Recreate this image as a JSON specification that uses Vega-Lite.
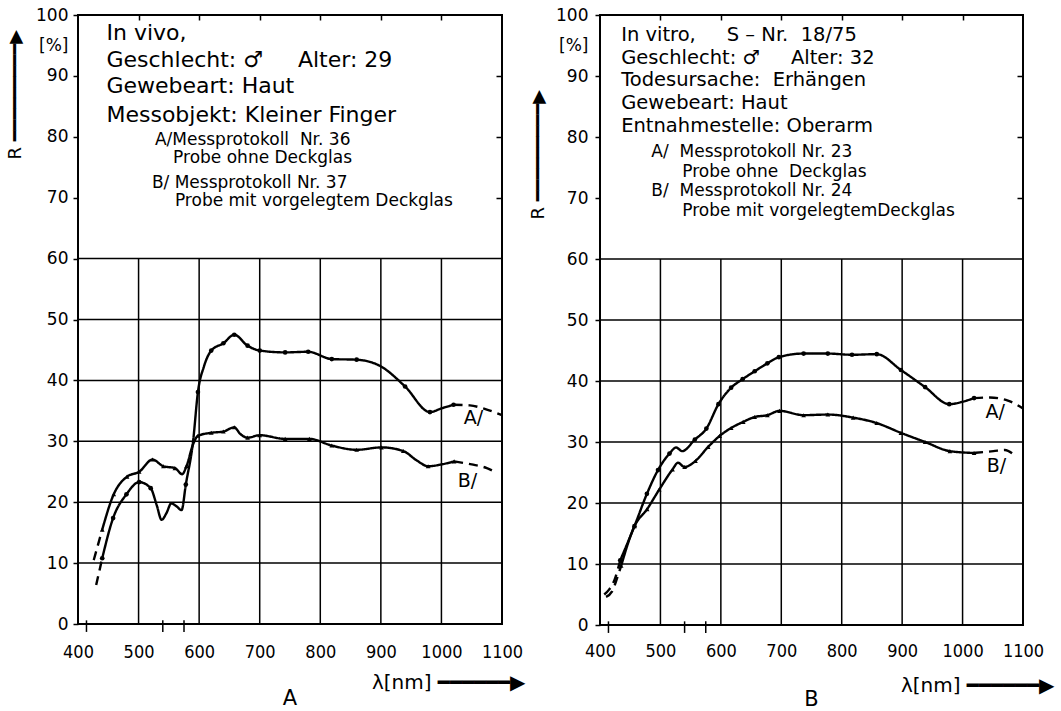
{
"$schema": "https://vega.github.io/schema/vega-lite/v6.json",
"background": "white",
"padding": {"left": 5, "top": 5, "right": 5, "bottom": 5},
"spacing": 98,
"bounds": "flush",
"config": {
  "font": "DejaVu Sans",
  "view": {"stroke": "black", "strokeWidth": 2},
  "axis": {"labelColor": "black", "titleColor": "black", "tickColor": "black", "domain": false, "grid": false, "titleFontWeight": "normal"},
  "title": {"color": "black", "fontWeight": "normal"}
},
"datasets": {
  "hgrid": [{"R": 10}, {"R": 20}, {"R": 30}, {"R": 40}, {"R": 50}, {"R": 60}],
  "vgrid": [{"nm": 500}, {"nm": 600}, {"nm": 700}, {"nm": 800}, {"nm": 900}, {"nm": 1000}],
  "sticks": [{"nm": 414}, {"nm": 540}, {"nm": 575}],
  "curvesL": [
    {"curve": "A", "seg": "A0", "style": "dash", "nm": 430, "R": 6.4, "pt": 0},
    {"curve": "A", "seg": "A0", "style": "dash", "nm": 435, "R": 8.6, "pt": 0},
    {"curve": "A", "seg": "A0", "style": "dash", "nm": 440, "R": 10.8, "pt": 0},
    {"curve": "A", "seg": "A1", "style": "solid", "nm": 440, "R": 10.8, "pt": 1},
    {"curve": "A", "seg": "A1", "style": "solid", "nm": 458, "R": 17.4, "pt": 1},
    {"curve": "A", "seg": "A1", "style": "solid", "nm": 480, "R": 21.3, "pt": 1},
    {"curve": "A", "seg": "A1", "style": "solid", "nm": 501, "R": 23.3, "pt": 1},
    {"curve": "A", "seg": "A1", "style": "solid", "nm": 520, "R": 22.3, "pt": 1},
    {"curve": "A", "seg": "A1", "style": "solid", "nm": 530, "R": 19.5, "pt": 0},
    {"curve": "A", "seg": "A1", "style": "solid", "nm": 538, "R": 17.1, "pt": 0},
    {"curve": "A", "seg": "A1", "style": "solid", "nm": 546, "R": 18.2, "pt": 0},
    {"curve": "A", "seg": "A1", "style": "solid", "nm": 554, "R": 19.8, "pt": 0},
    {"curve": "A", "seg": "A1", "style": "solid", "nm": 563, "R": 19.3, "pt": 0},
    {"curve": "A", "seg": "A1", "style": "solid", "nm": 571, "R": 18.7, "pt": 0},
    {"curve": "A", "seg": "A1", "style": "solid", "nm": 578, "R": 22.9, "pt": 1},
    {"curve": "A", "seg": "A1", "style": "solid", "nm": 590, "R": 30.0, "pt": 0},
    {"curve": "A", "seg": "A1", "style": "solid", "nm": 598, "R": 38.1, "pt": 1},
    {"curve": "A", "seg": "A1", "style": "solid", "nm": 608, "R": 42.3, "pt": 0},
    {"curve": "A", "seg": "A1", "style": "solid", "nm": 620, "R": 44.9, "pt": 1},
    {"curve": "A", "seg": "A1", "style": "solid", "nm": 640, "R": 46.1, "pt": 1},
    {"curve": "A", "seg": "A1", "style": "solid", "nm": 658, "R": 47.5, "pt": 1},
    {"curve": "A", "seg": "A1", "style": "solid", "nm": 680, "R": 45.7, "pt": 1},
    {"curve": "A", "seg": "A1", "style": "solid", "nm": 700, "R": 44.9, "pt": 1},
    {"curve": "A", "seg": "A1", "style": "solid", "nm": 742, "R": 44.6, "pt": 1},
    {"curve": "A", "seg": "A1", "style": "solid", "nm": 780, "R": 44.7, "pt": 1},
    {"curve": "A", "seg": "A1", "style": "solid", "nm": 819, "R": 43.5, "pt": 1},
    {"curve": "A", "seg": "A1", "style": "solid", "nm": 860, "R": 43.4, "pt": 1},
    {"curve": "A", "seg": "A1", "style": "solid", "nm": 900, "R": 42.3, "pt": 0},
    {"curve": "A", "seg": "A1", "style": "solid", "nm": 940, "R": 39.0, "pt": 1},
    {"curve": "A", "seg": "A1", "style": "solid", "nm": 981, "R": 34.8, "pt": 1},
    {"curve": "A", "seg": "A1", "style": "solid", "nm": 1000, "R": 35.4, "pt": 0},
    {"curve": "A", "seg": "A1", "style": "solid", "nm": 1020, "R": 36.0, "pt": 1},
    {"curve": "A", "seg": "A2", "style": "dash", "nm": 1020, "R": 36.0, "pt": 0},
    {"curve": "A", "seg": "A2", "style": "dash", "nm": 1047, "R": 35.9, "pt": 0},
    {"curve": "A", "seg": "A2", "style": "dash", "nm": 1075, "R": 35.2, "pt": 0},
    {"curve": "A", "seg": "A2", "style": "dash", "nm": 1100, "R": 34.3, "pt": 0},
    {"curve": "B", "seg": "B0", "style": "dash", "nm": 426, "R": 10.5, "pt": 0},
    {"curve": "B", "seg": "B0", "style": "dash", "nm": 433, "R": 13.0, "pt": 0},
    {"curve": "B", "seg": "B0", "style": "dash", "nm": 440, "R": 15.5, "pt": 0},
    {"curve": "B", "seg": "B1", "style": "solid", "nm": 440, "R": 15.5, "pt": 1},
    {"curve": "B", "seg": "B1", "style": "solid", "nm": 459, "R": 21.3, "pt": 1},
    {"curve": "B", "seg": "B1", "style": "solid", "nm": 481, "R": 24.2, "pt": 1},
    {"curve": "B", "seg": "B1", "style": "solid", "nm": 501, "R": 25.0, "pt": 1},
    {"curve": "B", "seg": "B1", "style": "solid", "nm": 523, "R": 27.0, "pt": 1},
    {"curve": "B", "seg": "B1", "style": "solid", "nm": 541, "R": 25.9, "pt": 1},
    {"curve": "B", "seg": "B1", "style": "solid", "nm": 560, "R": 25.6, "pt": 1},
    {"curve": "B", "seg": "B1", "style": "solid", "nm": 572, "R": 24.6, "pt": 0},
    {"curve": "B", "seg": "B1", "style": "solid", "nm": 579, "R": 25.9, "pt": 1},
    {"curve": "B", "seg": "B1", "style": "solid", "nm": 590, "R": 29.5, "pt": 0},
    {"curve": "B", "seg": "B1", "style": "solid", "nm": 598, "R": 30.9, "pt": 1},
    {"curve": "B", "seg": "B1", "style": "solid", "nm": 620, "R": 31.4, "pt": 1},
    {"curve": "B", "seg": "B1", "style": "solid", "nm": 640, "R": 31.6, "pt": 1},
    {"curve": "B", "seg": "B1", "style": "solid", "nm": 658, "R": 32.3, "pt": 1},
    {"curve": "B", "seg": "B1", "style": "solid", "nm": 668, "R": 31.2, "pt": 0},
    {"curve": "B", "seg": "B1", "style": "solid", "nm": 680, "R": 30.6, "pt": 1},
    {"curve": "B", "seg": "B1", "style": "solid", "nm": 700, "R": 31.0, "pt": 1},
    {"curve": "B", "seg": "B1", "style": "solid", "nm": 742, "R": 30.4, "pt": 1},
    {"curve": "B", "seg": "B1", "style": "solid", "nm": 782, "R": 30.4, "pt": 1},
    {"curve": "B", "seg": "B1", "style": "solid", "nm": 819, "R": 29.3, "pt": 1},
    {"curve": "B", "seg": "B1", "style": "solid", "nm": 860, "R": 28.6, "pt": 1},
    {"curve": "B", "seg": "B1", "style": "solid", "nm": 901, "R": 29.0, "pt": 1},
    {"curve": "B", "seg": "B1", "style": "solid", "nm": 937, "R": 28.4, "pt": 1},
    {"curve": "B", "seg": "B1", "style": "solid", "nm": 960, "R": 26.8, "pt": 0},
    {"curve": "B", "seg": "B1", "style": "solid", "nm": 978, "R": 25.9, "pt": 1},
    {"curve": "B", "seg": "B1", "style": "solid", "nm": 1000, "R": 26.2, "pt": 0},
    {"curve": "B", "seg": "B1", "style": "solid", "nm": 1021, "R": 26.7, "pt": 1},
    {"curve": "B", "seg": "B2", "style": "dash", "nm": 1021, "R": 26.7, "pt": 0},
    {"curve": "B", "seg": "B2", "style": "dash", "nm": 1050, "R": 26.2, "pt": 0},
    {"curve": "B", "seg": "B2", "style": "dash", "nm": 1075, "R": 25.6, "pt": 0},
    {"curve": "B", "seg": "B2", "style": "dash", "nm": 1092, "R": 24.8, "pt": 0}
  ],
  "curvesR": [
    {"curve": "A", "seg": "A0", "style": "dash", "nm": 407, "R": 5.0, "pt": 0},
    {"curve": "A", "seg": "A0", "style": "dash", "nm": 415, "R": 5.8, "pt": 0},
    {"curve": "A", "seg": "A0", "style": "dash", "nm": 424, "R": 7.4, "pt": 0},
    {"curve": "A", "seg": "A0", "style": "dash", "nm": 433.5, "R": 10.6, "pt": 0},
    {"curve": "A", "seg": "A1", "style": "solid", "nm": 433.5, "R": 10.6, "pt": 1},
    {"curve": "A", "seg": "A1", "style": "solid", "nm": 457, "R": 16.2, "pt": 1},
    {"curve": "A", "seg": "A1", "style": "solid", "nm": 477.6, "R": 21.5, "pt": 1},
    {"curve": "A", "seg": "A1", "style": "solid", "nm": 496, "R": 25.4, "pt": 1},
    {"curve": "A", "seg": "A1", "style": "solid", "nm": 515, "R": 28.1, "pt": 1},
    {"curve": "A", "seg": "A1", "style": "solid", "nm": 526, "R": 29.1, "pt": 0},
    {"curve": "A", "seg": "A1", "style": "solid", "nm": 536, "R": 28.5, "pt": 0},
    {"curve": "A", "seg": "A1", "style": "solid", "nm": 557, "R": 30.4, "pt": 1},
    {"curve": "A", "seg": "A1", "style": "solid", "nm": 576, "R": 32.2, "pt": 1},
    {"curve": "A", "seg": "A1", "style": "solid", "nm": 596, "R": 36.2, "pt": 1},
    {"curve": "A", "seg": "A1", "style": "solid", "nm": 617, "R": 38.9, "pt": 1},
    {"curve": "A", "seg": "A1", "style": "solid", "nm": 636, "R": 40.3, "pt": 1},
    {"curve": "A", "seg": "A1", "style": "solid", "nm": 656, "R": 41.6, "pt": 1},
    {"curve": "A", "seg": "A1", "style": "solid", "nm": 677, "R": 42.9, "pt": 1},
    {"curve": "A", "seg": "A1", "style": "solid", "nm": 696, "R": 43.9, "pt": 1},
    {"curve": "A", "seg": "A1", "style": "solid", "nm": 737, "R": 44.5, "pt": 1},
    {"curve": "A", "seg": "A1", "style": "solid", "nm": 777, "R": 44.5, "pt": 1},
    {"curve": "A", "seg": "A1", "style": "solid", "nm": 817, "R": 44.3, "pt": 1},
    {"curve": "A", "seg": "A1", "style": "solid", "nm": 858, "R": 44.4, "pt": 1},
    {"curve": "A", "seg": "A1", "style": "solid", "nm": 898, "R": 41.8, "pt": 1},
    {"curve": "A", "seg": "A1", "style": "solid", "nm": 938, "R": 39.0, "pt": 1},
    {"curve": "A", "seg": "A1", "style": "solid", "nm": 978, "R": 36.2, "pt": 1},
    {"curve": "A", "seg": "A1", "style": "solid", "nm": 1000, "R": 36.6, "pt": 0},
    {"curve": "A", "seg": "A1", "style": "solid", "nm": 1019, "R": 37.2, "pt": 1},
    {"curve": "A", "seg": "A2", "style": "dash", "nm": 1019, "R": 37.2, "pt": 0},
    {"curve": "A", "seg": "A2", "style": "dash", "nm": 1045, "R": 37.3, "pt": 0},
    {"curve": "A", "seg": "A2", "style": "dash", "nm": 1075, "R": 36.8, "pt": 0},
    {"curve": "A", "seg": "A2", "style": "dash", "nm": 1100, "R": 35.5, "pt": 0},
    {"curve": "B", "seg": "B0", "style": "dash", "nm": 410, "R": 4.6, "pt": 0},
    {"curve": "B", "seg": "B0", "style": "dash", "nm": 420, "R": 5.5, "pt": 0},
    {"curve": "B", "seg": "B0", "style": "dash", "nm": 430, "R": 8.2, "pt": 0},
    {"curve": "B", "seg": "B0", "style": "dash", "nm": 435, "R": 9.7, "pt": 0},
    {"curve": "B", "seg": "B1", "style": "solid", "nm": 435, "R": 9.7, "pt": 1},
    {"curve": "B", "seg": "B1", "style": "solid", "nm": 457, "R": 16.2, "pt": 1},
    {"curve": "B", "seg": "B1", "style": "solid", "nm": 478, "R": 19.0, "pt": 1},
    {"curve": "B", "seg": "B1", "style": "solid", "nm": 498, "R": 22.2, "pt": 1},
    {"curve": "B", "seg": "B1", "style": "solid", "nm": 520, "R": 25.5, "pt": 1},
    {"curve": "B", "seg": "B1", "style": "solid", "nm": 529, "R": 26.6, "pt": 0},
    {"curve": "B", "seg": "B1", "style": "solid", "nm": 540, "R": 25.9, "pt": 1},
    {"curve": "B", "seg": "B1", "style": "solid", "nm": 558, "R": 26.9, "pt": 1},
    {"curve": "B", "seg": "B1", "style": "solid", "nm": 579, "R": 29.2, "pt": 1},
    {"curve": "B", "seg": "B1", "style": "solid", "nm": 598, "R": 31.0, "pt": 1},
    {"curve": "B", "seg": "B1", "style": "solid", "nm": 617, "R": 32.3, "pt": 1},
    {"curve": "B", "seg": "B1", "style": "solid", "nm": 637, "R": 33.3, "pt": 1},
    {"curve": "B", "seg": "B1", "style": "solid", "nm": 656, "R": 34.1, "pt": 1},
    {"curve": "B", "seg": "B1", "style": "solid", "nm": 677, "R": 34.4, "pt": 1},
    {"curve": "B", "seg": "B1", "style": "solid", "nm": 697, "R": 35.1, "pt": 1},
    {"curve": "B", "seg": "B1", "style": "solid", "nm": 737, "R": 34.4, "pt": 1},
    {"curve": "B", "seg": "B1", "style": "solid", "nm": 777, "R": 34.5, "pt": 1},
    {"curve": "B", "seg": "B1", "style": "solid", "nm": 819, "R": 34.0, "pt": 1},
    {"curve": "B", "seg": "B1", "style": "solid", "nm": 858, "R": 33.1, "pt": 1},
    {"curve": "B", "seg": "B1", "style": "solid", "nm": 898, "R": 31.5, "pt": 1},
    {"curve": "B", "seg": "B1", "style": "solid", "nm": 938, "R": 30.0, "pt": 1},
    {"curve": "B", "seg": "B1", "style": "solid", "nm": 979, "R": 28.5, "pt": 1},
    {"curve": "B", "seg": "B1", "style": "solid", "nm": 1019, "R": 28.2, "pt": 1},
    {"curve": "B", "seg": "B2", "style": "dash", "nm": 1019, "R": 28.2, "pt": 0},
    {"curve": "B", "seg": "B2", "style": "dash", "nm": 1051, "R": 28.5, "pt": 0},
    {"curve": "B", "seg": "B2", "style": "dash", "nm": 1070, "R": 28.7, "pt": 0},
    {"curve": "B", "seg": "B2", "style": "dash", "nm": 1084, "R": 28.0, "pt": 0}
  ],
  "tagsL": [{"nm": 1053, "R": 33.8, "text": "A/"}, {"nm": 1043, "R": 23.5, "text": "B/"}],
  "tagsR": [{"nm": 1054, "R": 35.0, "text": "A/"}, {"nm": 1056, "R": 26.1, "text": "B/"}],
  "textL": [
    {"nm": 447, "R": 97.0, "text": "In vivo,", "kind": "big"},
    {"nm": 447, "R": 92.6, "text": "Geschlecht: ♂\u00a0\u00a0\u00a0\u00a0\u00a0Alter: 29", "kind": "big"},
    {"nm": 447, "R": 88.3, "text": "Gewebeart: Haut", "kind": "big"},
    {"nm": 447, "R": 83.6, "text": "Messobjekt: Kleiner Finger", "kind": "big"},
    {"nm": 527, "R": 79.5, "text": "A/Messprotokoll\u00a0\u00a0Nr. 36", "kind": "small"},
    {"nm": 557, "R": 76.5, "text": "Probe ohne Deckglas", "kind": "small"},
    {"nm": 522, "R": 72.4, "text": "B/ Messprotokoll Nr. 37", "kind": "small"},
    {"nm": 560, "R": 69.4, "text": "Probe mit vorgelegtem Deckglas", "kind": "small"}
  ],
  "textR": [
    {"nm": 435, "R": 96.8, "text": "In vitro,\u00a0\u00a0\u00a0\u00a0\u00a0S – Nr.\u00a0\u00a018/75", "kind": "mid"},
    {"nm": 435, "R": 93.0, "text": "Geschlecht: ♂\u00a0\u00a0\u00a0\u00a0\u00a0Alter: 32", "kind": "mid"},
    {"nm": 435, "R": 89.3, "text": "Todesursache:\u00a0\u00a0Erhängen", "kind": "mid"},
    {"nm": 435, "R": 85.6, "text": "Gewebeart: Haut", "kind": "mid"},
    {"nm": 435, "R": 81.8, "text": "Entnahmestelle: Oberarm", "kind": "mid"},
    {"nm": 485, "R": 77.5, "text": "A/\u00a0\u00a0Messprotokoll Nr. 23", "kind": "small"},
    {"nm": 536, "R": 74.3, "text": "Probe ohne\u00a0\u00a0Deckglas", "kind": "small"},
    {"nm": 485, "R": 71.1, "text": "B/\u00a0\u00a0Messprotokoll Nr. 24", "kind": "small"},
    {"nm": 536, "R": 67.8, "text": "Probe mit vorgelegtemDeckglas", "kind": "small"}
  ]
},
"hconcat": [
  {
    "width": 424, "height": 609,
    "title": {"text": "A", "orient": "bottom", "fontSize": 21, "offset": -4, "anchor": "middle"},
    "resolve": {"axis": {"x": "independent", "y": "independent"}},
    "layer": [
      {"data": {"name": "hgrid"}, "mark": {"type": "rule", "color": "black", "strokeWidth": 1.5},
       "encoding": {"y": {"field": "R", "type": "quantitative", "scale": {"domain": [0, 100], "nice": false, "zero": false},
         "axis": {"orient": "left", "values": [0, 10, 20, 30, 40, 50, 60, 70, 80, 90, 95, 100], "labelExpr": "datum.value==95?'[%]':datum.label", "labelFontSize": 17, "labelPadding": 5, "tickSize": 5, "tickWidth": 1.5, "tickOpacity": {"condition": {"test": "datum.value==95", "value": 0}, "value": 1}, "title": "R ━━━━━━━━━▶", "titleFontSize": 18, "titleAlign": "left", "titleBaseline": "middle", "titleAngle": -90, "titleX": -63, "titleY": 144}}}},
      {"data": {"name": "vgrid"}, "mark": {"type": "rule", "color": "black", "strokeWidth": 1.5},
       "encoding": {"x": {"field": "nm", "type": "quantitative", "scale": {"domain": [400, 1100], "nice": false, "zero": false},
         "axis": {"orient": "bottom", "values": [400, 500, 600, 700, 800, 900, 1000, 1100], "format": "d", "ticks": false, "tickSize": 0, "labelFont": "DejaVu Sans Condensed", "labelFontSize": 18, "labelPadding": 19, "labelFlush": false, "labelOverlap": false, "title": "λ[nm] ━━━━━━▶", "titleFontSize": 20, "titleAlign": "right", "titleBaseline": "middle", "titleX": 447, "titleY": 58}},
         "y": {"datum": 0, "type": "quantitative", "scale": {"domain": [0, 100], "nice": false, "zero": false}, "axis": null}, "y2": {"datum": 60}}},
      {"data": {"name": "sticks"}, "mark": {"type": "rule", "color": "black", "strokeWidth": 1.5},
       "encoding": {"x": {"field": "nm", "type": "quantitative", "scale": {"domain": [400, 1100], "nice": false, "zero": false}, "axis": null},
         "y": {"datum": -1.3, "type": "quantitative", "scale": {"domain": [0, 100], "nice": false, "zero": false}, "axis": null}, "y2": {"datum": 0.6}}},
      {"data": {"name": "curvesL"}, "mark": {"type": "line", "interpolate": "monotone", "color": "black", "strokeWidth": 2.4},
       "encoding": {"x": {"field": "nm", "type": "quantitative", "scale": {"domain": [400, 1100], "nice": false, "zero": false},
         "axis": {"orient": "top", "values": [500, 600, 700, 800, 900, 1000], "labels": false, "tickSize": -5, "tickWidth": 1.5, "title": null}},
         "y": {"field": "R", "type": "quantitative", "scale": {"domain": [0, 100], "nice": false, "zero": false}, "axis": null},
         "detail": {"field": "seg"},
         "strokeDash": {"field": "style", "type": "nominal", "scale": {"domain": ["solid", "dash"], "range": [[1, 0], [9, 6]]}, "legend": null}}},
      {"data": {"name": "curvesL"}, "transform": [{"filter": "datum.pt == 1"}], "mark": {"type": "point", "filled": true, "color": "black", "size": 22, "opacity": 1},
       "encoding": {"x": {"field": "nm", "type": "quantitative", "scale": {"domain": [400, 1100], "nice": false, "zero": false}, "axis": null},
         "y": {"field": "R", "type": "quantitative", "scale": {"domain": [0, 100], "nice": false, "zero": false}, "axis": null},
         "shape": {"field": "curve", "type": "nominal", "scale": {"domain": ["A", "B"], "range": ["circle", "triangle-up"]}, "legend": null}}},
      {"data": {"name": "tagsL"}, "mark": {"type": "text", "fontSize": 19, "color": "black", "align": "center", "baseline": "middle"},
       "encoding": {"x": {"field": "nm", "type": "quantitative", "scale": {"domain": [400, 1100], "nice": false, "zero": false}, "axis": null},
         "y": {"field": "R", "type": "quantitative", "scale": {"domain": [0, 100], "nice": false, "zero": false}, "axis": null},
         "text": {"field": "text"}}},
      {"data": {"name": "textL"}, "mark": {"type": "text", "color": "black", "align": "left", "baseline": "middle"},
       "encoding": {"x": {"field": "nm", "type": "quantitative", "scale": {"domain": [400, 1100], "nice": false, "zero": false}, "axis": null},
         "y": {"field": "R", "type": "quantitative", "scale": {"domain": [0, 100], "nice": false, "zero": false},
           "axis": {"orient": "right", "values": [70, 80, 90], "labels": false, "tickSize": -6, "tickWidth": 1.5, "title": null}},
         "text": {"field": "text"},
         "size": {"field": "kind", "type": "nominal", "scale": {"domain": ["big", "mid", "small"], "range": [22, 17, 13.5]}, "legend": null}}}
    ]
  },
  {
    "width": 423, "height": 610,
    "title": {"text": "B", "orient": "bottom", "fontSize": 21, "offset": -6, "anchor": "middle"},
    "resolve": {"axis": {"x": "independent", "y": "independent"}},
    "layer": [
      {"data": {"name": "hgrid"}, "mark": {"type": "rule", "color": "black", "strokeWidth": 1.5},
       "encoding": {"y": {"field": "R", "type": "quantitative", "scale": {"domain": [0, 100], "nice": false, "zero": false},
         "axis": {"orient": "left", "values": [0, 10, 20, 30, 40, 50, 60, 70, 80, 90, 95, 100], "labelExpr": "datum.value==95?'[%]':datum.label", "labelFontSize": 17, "labelPadding": 7, "tickSize": 5, "tickWidth": 1.5, "tickOpacity": {"condition": {"test": "datum.value==95", "value": 0}, "value": 1}, "title": "R ━━━━━━━━━▶", "titleFontSize": 18, "titleAlign": "left", "titleBaseline": "middle", "titleAngle": -90, "titleX": -62, "titleY": 204}}}},
      {"data": {"name": "vgrid"}, "mark": {"type": "rule", "color": "black", "strokeWidth": 1.5},
       "encoding": {"x": {"field": "nm", "type": "quantitative", "scale": {"domain": [400, 1100], "nice": false, "zero": false},
         "axis": {"orient": "bottom", "values": [400, 500, 600, 700, 800, 900, 1000, 1100], "format": "d", "ticks": false, "tickSize": 0, "labelFont": "DejaVu Sans Condensed", "labelFontSize": 18, "labelPadding": 17, "labelFlush": false, "labelOverlap": false, "title": "λ[nm] ━━━━━━▶", "titleFontSize": 20, "titleAlign": "right", "titleBaseline": "middle", "titleX": 454, "titleY": 60}},
         "y": {"datum": 0, "type": "quantitative", "scale": {"domain": [0, 100], "nice": false, "zero": false}, "axis": null}, "y2": {"datum": 60}}},
      {"data": {"name": "sticks"}, "mark": {"type": "rule", "color": "black", "strokeWidth": 1.5},
       "encoding": {"x": {"field": "nm", "type": "quantitative", "scale": {"domain": [400, 1100], "nice": false, "zero": false}, "axis": null},
         "y": {"datum": -1.3, "type": "quantitative", "scale": {"domain": [0, 100], "nice": false, "zero": false}, "axis": null}, "y2": {"datum": 0.6}}},
      {"data": {"name": "curvesR"}, "mark": {"type": "line", "interpolate": "monotone", "color": "black", "strokeWidth": 2.4},
       "encoding": {"x": {"field": "nm", "type": "quantitative", "scale": {"domain": [400, 1100], "nice": false, "zero": false},
         "axis": {"orient": "top", "values": [500, 600, 700, 800, 900, 1000], "labels": false, "tickSize": -5, "tickWidth": 1.5, "title": null}},
         "y": {"field": "R", "type": "quantitative", "scale": {"domain": [0, 100], "nice": false, "zero": false}, "axis": null},
         "detail": {"field": "seg"},
         "strokeDash": {"field": "style", "type": "nominal", "scale": {"domain": ["solid", "dash"], "range": [[1, 0], [9, 6]]}, "legend": null}}},
      {"data": {"name": "curvesR"}, "transform": [{"filter": "datum.pt == 1"}], "mark": {"type": "point", "filled": true, "color": "black", "size": 22, "opacity": 1},
       "encoding": {"x": {"field": "nm", "type": "quantitative", "scale": {"domain": [400, 1100], "nice": false, "zero": false}, "axis": null},
         "y": {"field": "R", "type": "quantitative", "scale": {"domain": [0, 100], "nice": false, "zero": false}, "axis": null},
         "shape": {"field": "curve", "type": "nominal", "scale": {"domain": ["A", "B"], "range": ["circle", "triangle-up"]}, "legend": null}}},
      {"data": {"name": "tagsR"}, "mark": {"type": "text", "fontSize": 19, "color": "black", "align": "center", "baseline": "middle"},
       "encoding": {"x": {"field": "nm", "type": "quantitative", "scale": {"domain": [400, 1100], "nice": false, "zero": false}, "axis": null},
         "y": {"field": "R", "type": "quantitative", "scale": {"domain": [0, 100], "nice": false, "zero": false}, "axis": null},
         "text": {"field": "text"}}},
      {"data": {"name": "textR"}, "mark": {"type": "text", "color": "black", "align": "left", "baseline": "middle"},
       "encoding": {"x": {"field": "nm", "type": "quantitative", "scale": {"domain": [400, 1100], "nice": false, "zero": false}, "axis": null},
         "y": {"field": "R", "type": "quantitative", "scale": {"domain": [0, 100], "nice": false, "zero": false},
           "axis": {"orient": "right", "values": [70, 80, 90], "labels": false, "tickSize": -6, "tickWidth": 1.5, "title": null}},
         "text": {"field": "text"},
         "size": {"field": "kind", "type": "nominal", "scale": {"domain": ["big", "mid", "small"], "range": [22, 17, 13.5]}, "legend": null}}}
    ]
  }
]
}
